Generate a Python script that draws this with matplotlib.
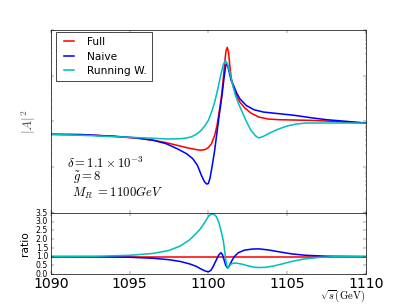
import matplotlib
matplotlib.use("Agg")
import matplotlib.pyplot as plt
from matplotlib.ticker import NullFormatter

plt.style.use('classic')
plt.rcParams['mathtext.fontset'] = 'cm'
plt.rcParams['font.family'] = ['DejaVu Sans']

# ---- data (top panel: |A|^2, arbitrary units, log scale) ----
full_x = [1090, 1092, 1094, 1095.5, 1096.5, 1097.3, 1098.0, 1098.6, 1099.1, 1099.5,
          1099.8, 1100.0, 1100.2, 1100.4, 1100.55, 1100.7, 1100.85, 1100.95, 1101.05,
          1101.12, 1101.2, 1101.28, 1101.36, 1101.45, 1101.6, 1101.8, 1102.0, 1102.3,
          1102.7, 1103.2, 1103.8, 1104.5, 1105.5, 1106.5, 1107.5, 1108.5, 1110]
full_y = [0.5215, 0.5129, 0.4720, 0.4270, 0.3864, 0.3437, 0.3007, 0.2676, 0.2461, 0.2342,
          0.2421, 0.2676, 0.3269, 0.4961, 0.8185, 1.7342, 3.9948, 8.8965, 21.188,
          34.955, 41.302, 32.156, 16.500, 8.8965, 5.3941, 3.5534, 2.6324, 1.9823,
          1.5177, 1.2423, 1.1239, 1.0870, 1.0690, 1.0513, 1.0168, 0.9672, 0.9200]

naive_x = [1090, 1092, 1094, 1095.5, 1096.5, 1097.3, 1098.0, 1098.6, 1099.0, 1099.3,
           1099.55, 1099.75, 1099.9, 1100.0, 1100.1, 1100.25, 1100.4, 1100.55, 1100.7,
           1100.85, 1101.0, 1101.1, 1101.15, 1101.22, 1101.3, 1101.45, 1101.6, 1101.8,
           1102.0, 1102.4, 1102.9, 1103.5, 1104.5, 1105.5, 1106.5, 1107.5, 1108.5, 1110]
naive_y = [0.5215, 0.5129, 0.4720, 0.4342, 0.3864, 0.3269, 0.2545, 0.1982, 0.1543, 0.1105,
           0.0670, 0.0480, 0.0427, 0.0441, 0.0567, 0.1105, 0.2342, 0.5862, 1.4678,
           3.3806, 9.1986, 16.500, 17.933, 16.500, 12.846, 7.7854, 6.062, 4.129,
           3.1105, 2.2277, 1.7935, 1.5958, 1.4678, 1.3503, 1.2016, 1.0870, 1.0168, 0.9200]

run_x = [1090, 1092, 1094, 1095.5, 1096.5, 1097.3, 1098.0, 1098.5, 1098.9, 1099.2,
         1099.5, 1099.75, 1100.0, 1100.2, 1100.4, 1100.6, 1100.8, 1100.95, 1101.07,
         1101.2, 1101.35, 1101.5, 1101.7, 1101.9, 1102.1, 1102.4, 1102.7, 1103.0,
         1103.2, 1103.5, 1103.9, 1104.4, 1105.0, 1105.6, 1106.2, 1107.5, 1110]
run_y = [0.5215, 0.4961, 0.4642, 0.4415, 0.4270, 0.4130, 0.4130, 0.4270, 0.4565, 0.5129,
         0.6165, 0.7786, 1.0513, 1.5958, 2.6324, 5.1310, 10.870, 17.345, 21.188,
         18.538, 12.424, 7.165, 3.8637, 2.5033, 1.7342, 1.0168, 0.6372, 0.4800,
         0.4342, 0.4720, 0.5576, 0.6700, 0.7918, 0.8750, 0.9200, 0.9200, 0.9200]

# ---- ratio panel ----
ratio_full_x = [1090, 1110]
ratio_full = [1.0, 1.0]

ratio_naive_x = [1090, 1093, 1095, 1096.5, 1097.5, 1098.2, 1098.8, 1099.2, 1099.5, 1099.8,
                 1100.0, 1100.15, 1100.3, 1100.5, 1100.65, 1100.8, 1100.9, 1101.0, 1101.1,
                 1101.2, 1101.3, 1101.45, 1101.65, 1101.9, 1102.3, 1102.8, 1103.2, 1103.8,
                 1104.5, 1105.3, 1106.2, 1107.5, 1110]
ratio_naive = [1.0, 0.99, 0.96, 0.90, 0.82, 0.72, 0.58, 0.45, 0.30, 0.17,
               0.13, 0.20, 0.42, 0.80, 1.08, 1.22, 1.10, 0.80, 0.50,
               0.35, 0.42, 0.70, 1.00, 1.22, 1.37, 1.43, 1.44, 1.38,
               1.27, 1.15, 1.07, 1.02, 1.0]

ratio_run_x = [1090, 1093, 1095, 1096.5, 1097.5, 1098.2, 1098.8, 1099.2, 1099.5, 1099.8,
               1100.0, 1100.2, 1100.35, 1100.5, 1100.65, 1100.8, 1100.95, 1101.05, 1101.12,
               1101.2, 1101.25, 1101.32, 1101.45, 1101.6, 1101.8, 1102.1, 1102.5, 1102.9,
               1103.2, 1103.6, 1104.1, 1104.7, 1105.3, 1106.0, 1107.0, 1108.0, 1110]
ratio_run = [1.0, 1.02, 1.07, 1.18, 1.35, 1.60, 1.95, 2.30, 2.60, 3.00,
             3.30, 3.45, 3.42, 3.30, 3.00, 2.50, 1.90, 1.20, 0.70,
             0.38, 0.33, 0.45, 0.57, 0.62, 0.62, 0.57, 0.47, 0.39,
             0.37, 0.38, 0.45, 0.58, 0.72, 0.85, 0.95, 0.99, 1.0]

xticks = [1090, 1095, 1100, 1105, 1110]
rticks = [0.0, 0.5, 1.0, 1.5, 2.0, 2.5, 3.0, 3.5]

fig = plt.figure(figsize=(8, 6), dpi=50.875, facecolor='white')
ax1 = fig.add_axes([0.125, 0.3016, 0.774, 0.6])
ax2 = fig.add_axes([0.125, 0.1016, 0.774, 0.2], sharex=ax1)

lw = 2.2
ax1.plot(full_x, full_y, color='r', lw=lw, label='Full')
ax1.plot(naive_x, naive_y, color='b', lw=lw, label='Naive')
ax1.plot(run_x, run_y, color='c', lw=lw, label='Running W.')
ax1.set_yscale('log')
ax1.set_ylim(1e-2, 1e2)
ax1.set_xlim(1090, 1110)
ax1.yaxis.set_major_formatter(NullFormatter())
ax1.yaxis.set_minor_formatter(NullFormatter())
plt.setp(ax1.get_xticklabels(), visible=False)
ax1.set_ylabel(r'$|A|^2$', fontsize=19, color='#555555')
ax1.yaxis.set_label_coords(-0.041, 0.5)

leg = ax1.legend(loc='upper left', bbox_to_anchor=(0.016, 0.989), borderaxespad=0,
                 fontsize=15, handlelength=1.6, handletextpad=0.9, labelspacing=0.45,
                 borderpad=0.45, fancybox=False)
leg.get_frame().set_edgecolor('black')

ax1.text(0.05, 0.273, r'$\delta=1.1\times10^{-3}$', transform=ax1.transAxes,
         fontsize=18, va='center', ha='left')
ax1.text(0.069, 0.191, r'$\tilde{g}=8$', transform=ax1.transAxes,
         fontsize=18, va='center', ha='left')
ax1.text(0.066, 0.112, r'$M_R\ =1100GeV$', transform=ax1.transAxes,
         fontsize=18, va='center', ha='left')

ax2.plot(ratio_full_x, ratio_full, color='r', lw=lw)
ax2.plot(ratio_naive_x, ratio_naive, color='b', lw=lw)
ax2.plot(ratio_run_x, ratio_run, color='c', lw=lw)
ax2.set_ylim(0, 3.5)
ax2.set_yticks(rticks)
ax2.set_yticklabels(['%.1f' % v for v in rticks], fontsize=11)
ax2.set_xticks(xticks)
ax2.set_xticklabels([str(v) for v in xticks], fontsize=20)
ax2.set_ylabel('ratio', fontsize=15)
ax2.yaxis.set_label_coords(-0.067, 0.5)
ax2.tick_params(axis='x', pad=4)

fig.text(0.897, 0.03, r'$\sqrt{s}(\mathrm{GeV})$', fontsize=15, ha='right', va='center')

fig.savefig('out.png', dpi=50.875, facecolor='white')
